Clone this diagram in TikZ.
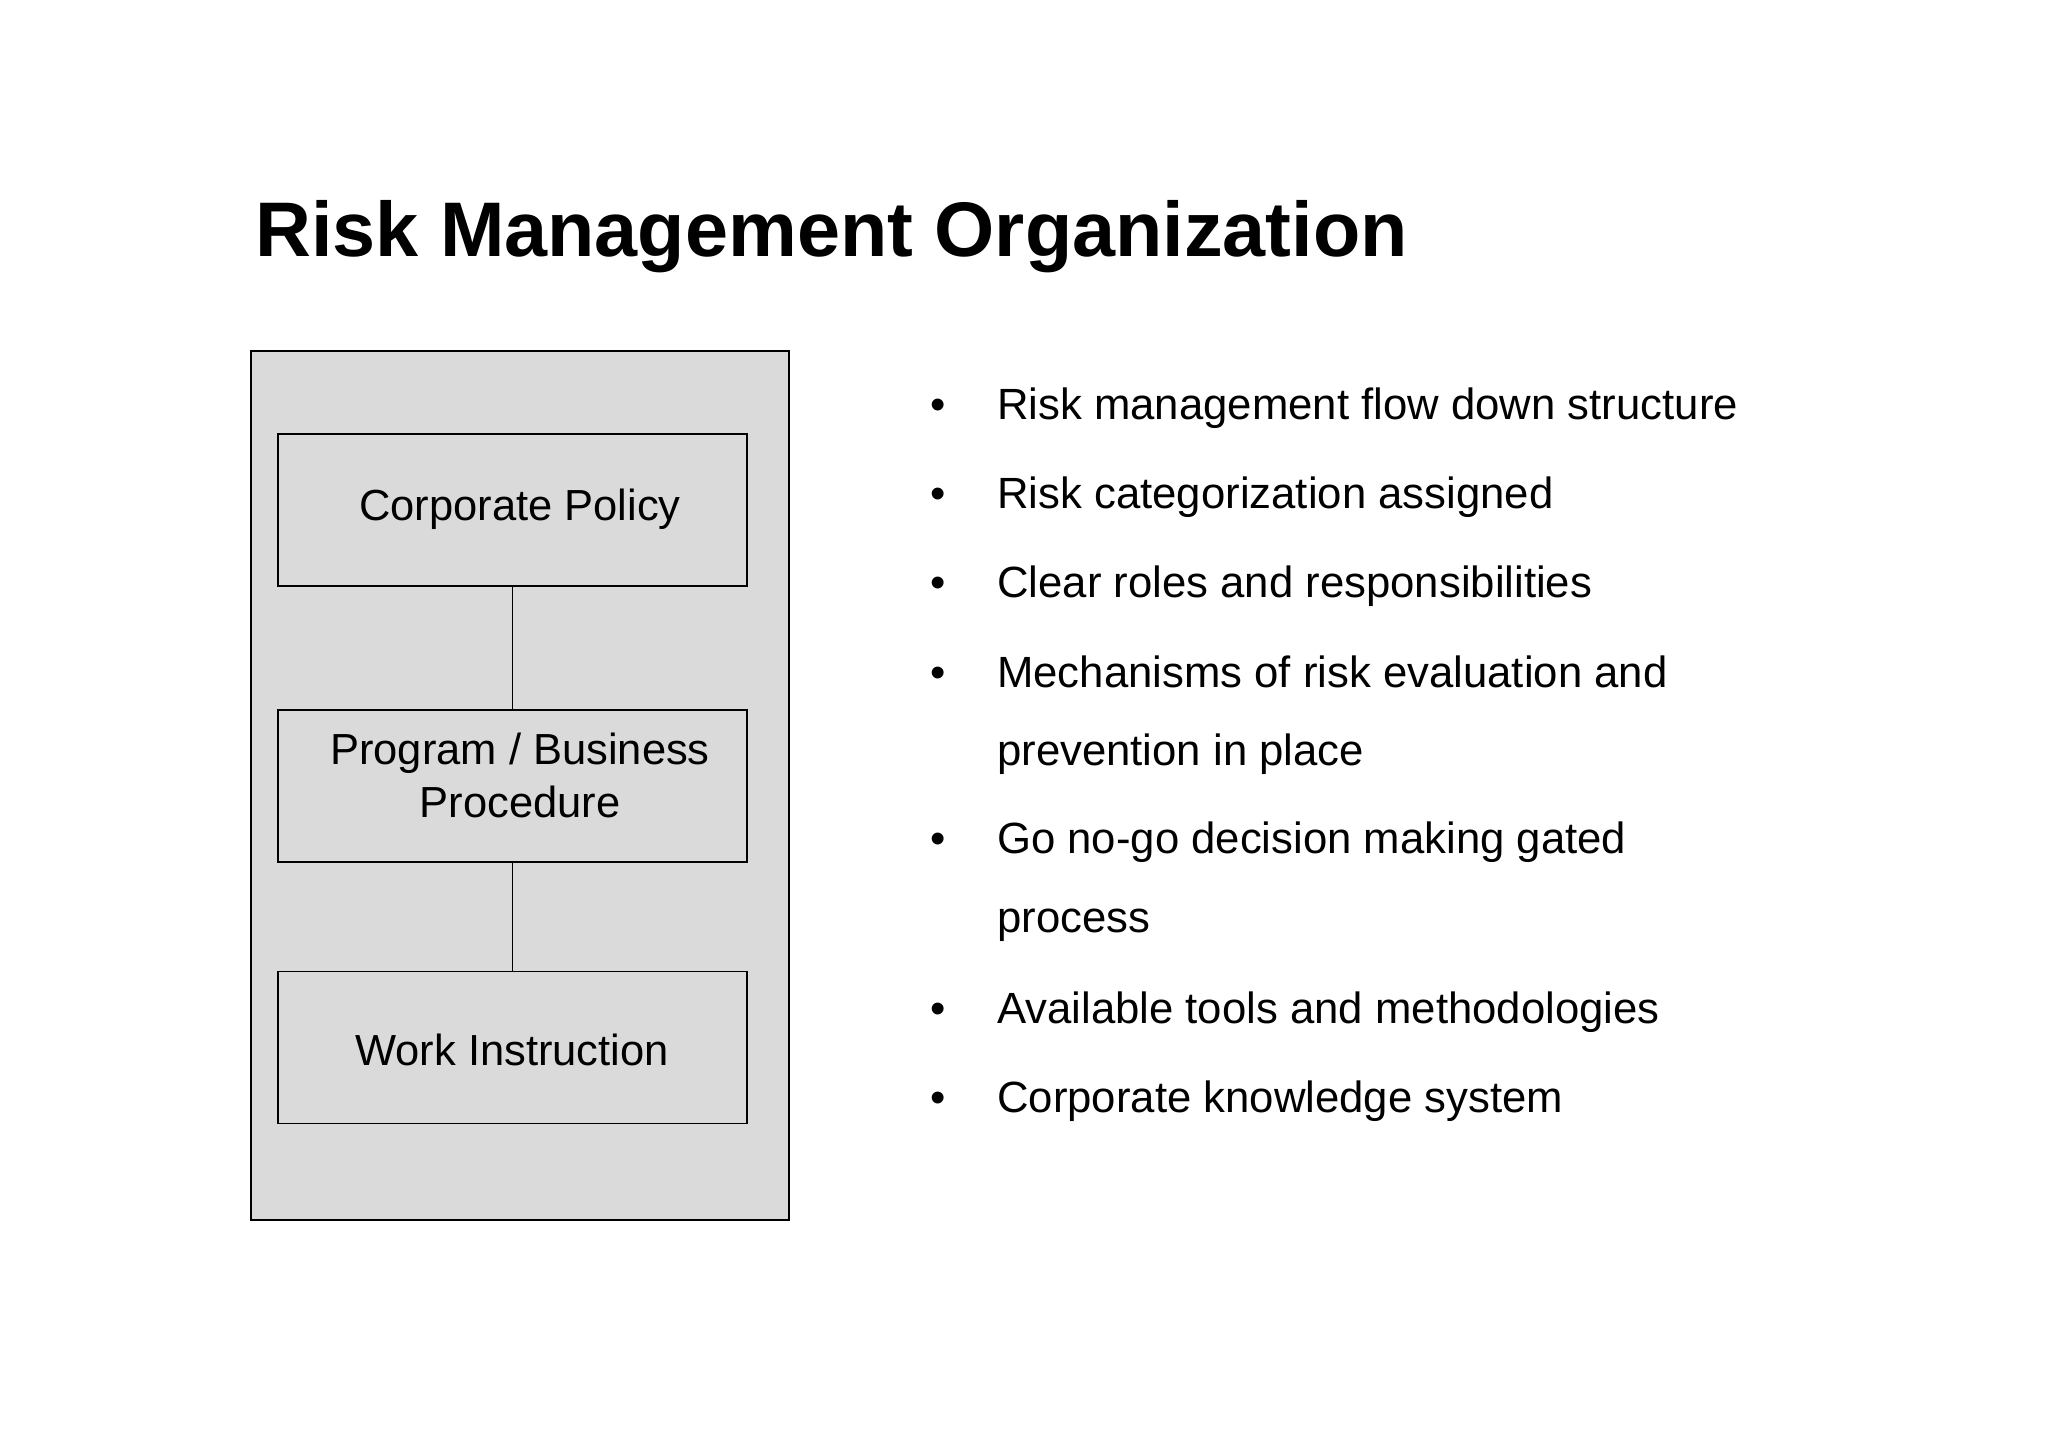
\documentclass[tikz,border=0pt]{standalone}
\usepackage{fontspec}
\setmainfont{Liberation Sans}
\definecolor{boxgray}{RGB}{218,218,218}
\tikzset{
  panel/.style={draw=black, line width=1.6pt, fill=boxgray, rectangle, inner sep=0pt},
  levelbox/.style={draw=black, line width=1.6pt, fill=boxgray, rectangle, inner sep=0pt,
                   minimum width=469pt, minimum height=152pt},
  boxtext/.style={inner sep=0pt, font=\fontsize{43.5}{53}\selectfont, align=center},
  bullettext/.style={inner sep=0pt, anchor=base west, font=\fontsize{43.7}{52}\selectfont},
  bulletdot/.style={inner sep=0pt, anchor=base, font=\fontsize{43.7}{52}\selectfont},
  link/.style={draw=black, line width=1.4pt}
}
\begin{document}
\begin{tikzpicture}[x=1pt, y=-1pt]
\useasboundingbox (0,0) rectangle (2048,1447);
\fill[white] (0,0) rectangle (2048,1447);

% title
\node[inner sep=0pt, anchor=base west, font=\fontsize{77.4}{90}\selectfont\bfseries]
  (title) at (255,257) {Risk Management Organization};

% left panel
\node[panel, minimum width=538pt, minimum height=869pt] (outer) at (520,785.5) {};
\node[levelbox] (b1) at (512.6,510) {};
\node[levelbox] (b2) at (512.6,786) {};
\node[levelbox] (b3) at (512.6,1047.5) {};
\draw[link] (b1.south) -- (b2.north);
\draw[link] (b2.south) -- (b3.north);

\node[boxtext, anchor=base] (t1) at (520,520) {Corporate Policy};
\node[boxtext, anchor=base] (t2a) at (520,764) {Program / Business};
\node[boxtext, anchor=base] (t2b) at (520,817) {Procedure};
\node[boxtext, anchor=base] (t3) at (512,1065) {Work Instruction};

% bullets
\node[bulletdot] (d1) at (938,419) {•};
\node[bullettext] (l1) at (997,419) {Risk management flow down structure};
\node[bulletdot] (d2) at (938,508) {•};
\node[bullettext] (l2) at (997,508) {Risk categorization assigned};
\node[bulletdot] (d3) at (938,597) {•};
\node[bullettext] (l3) at (997,597) {Clear roles and responsibilities};
\node[bulletdot] (d4) at (938,687) {•};
\node[bullettext] (l4) at (997,687) {Mechanisms of risk evaluation and};
\node[bullettext] (l4b) at (997,765) {prevention in place};
\node[bulletdot] (d5) at (938,853) {•};
\node[bullettext] (l5) at (997,853) {Go no-go decision making gated};
\node[bullettext] (l5b) at (997,932) {process};
\node[bulletdot] (d6) at (938,1023) {•};
\node[bullettext] (l6) at (997,1023) {Available tools and methodologies};
\node[bulletdot] (d7) at (938,1112) {•};
\node[bullettext] (l7) at (997,1112) {Corporate knowledge system};
\end{tikzpicture}
\end{document}
